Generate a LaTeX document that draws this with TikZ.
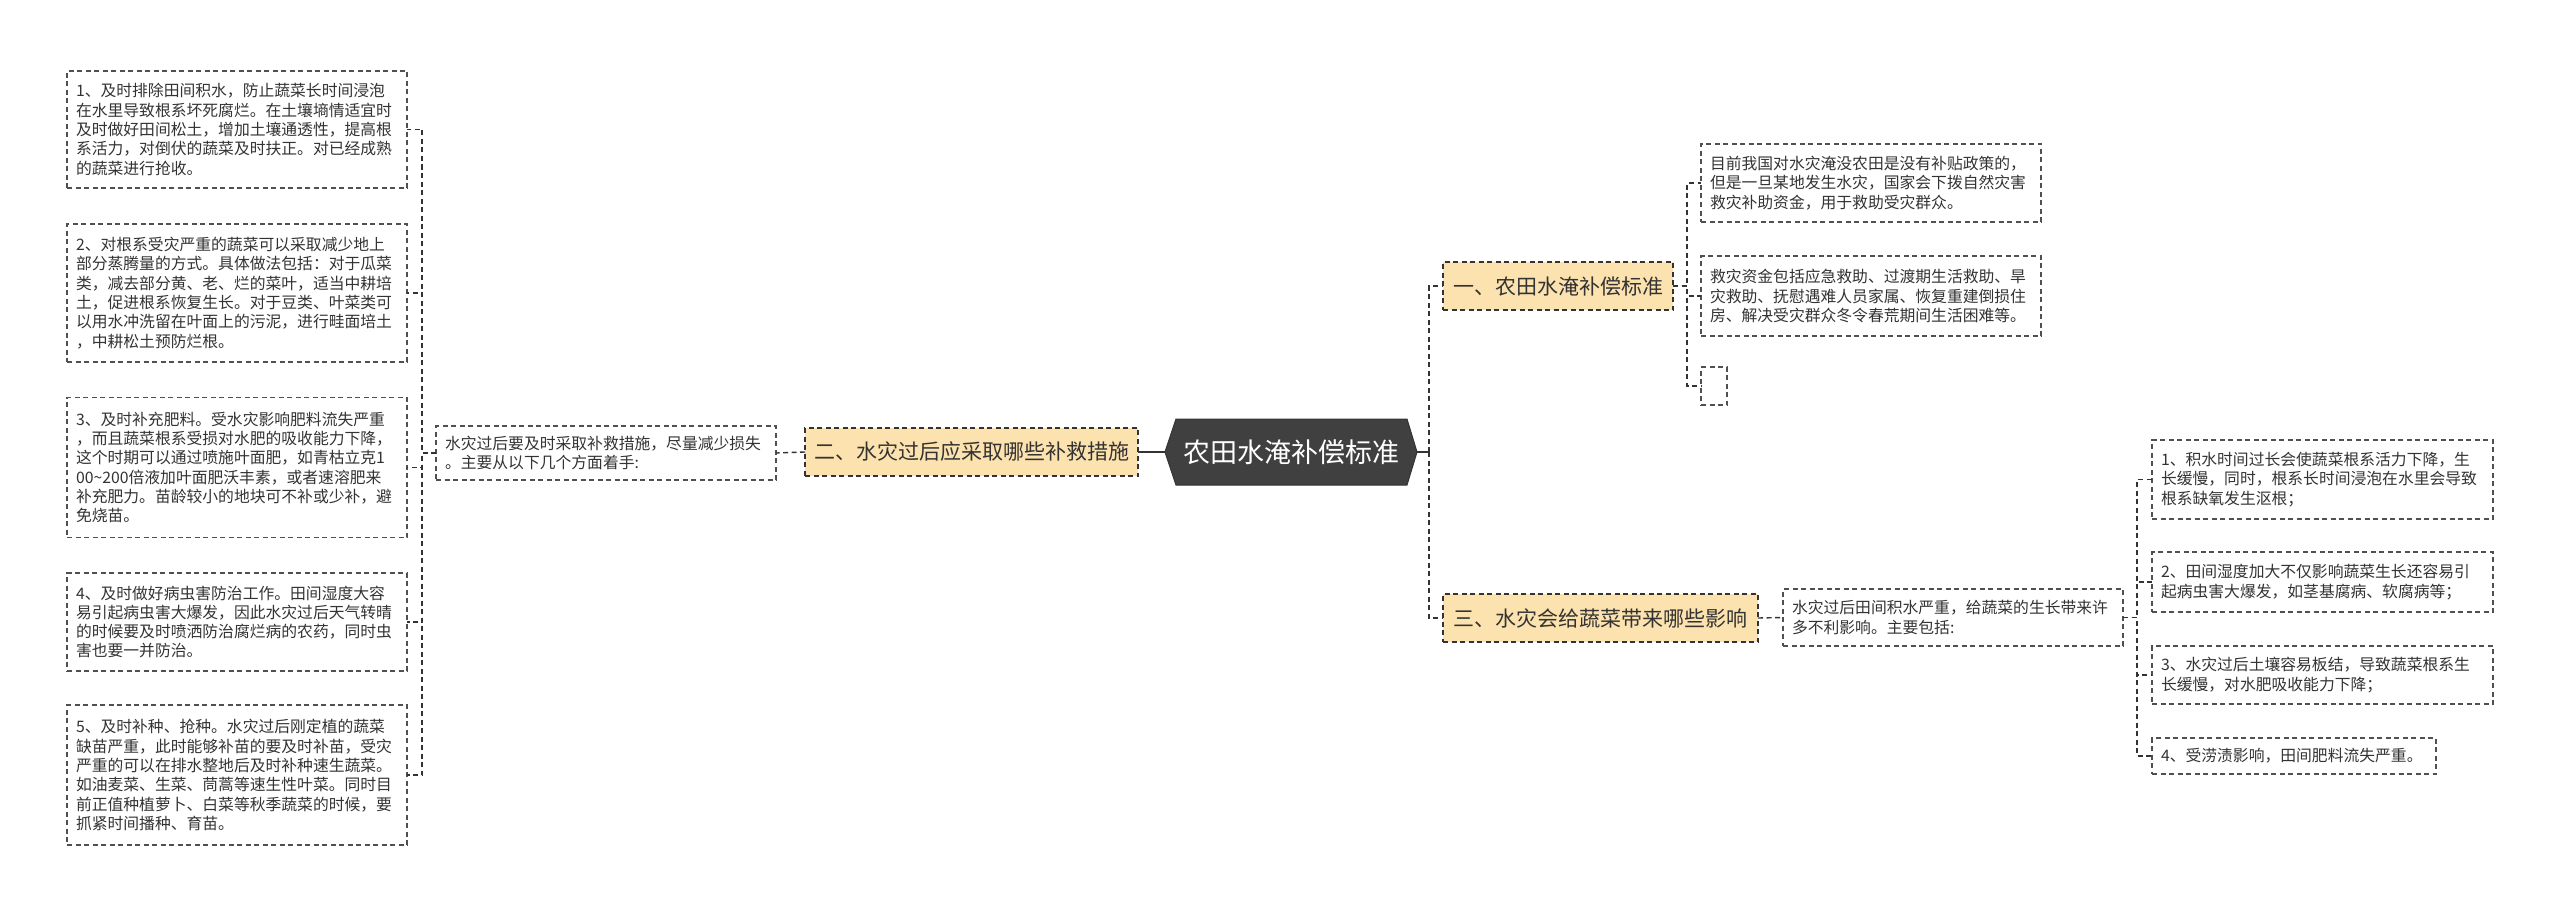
\documentclass[tikz,border=0pt]{standalone}
\usepackage{fontspec}
\setmainfont{Noto Sans CJK SC}
\usetikzlibrary{backgrounds,calc}
\definecolor{lineC}{HTML}{333333}
\definecolor{boxB}{HTML}{505050}
\definecolor{txtC}{HTML}{333333}
\definecolor{orangeF}{HTML}{FCE2AE}
\definecolor{centerF}{HTML}{404040}
\tikzset{
  conn/.style={draw=lineC, line width=1.4pt, dash pattern=on 5pt off 3.5pt},
  solidconn/.style={draw=lineC, line width=1.8pt},
  leaf/.style={draw=boxB, line width=1.3pt, dash pattern=on 5pt off 3.5pt, fill=white,
    inner xsep=9pt, inner ysep=0pt, outer sep=0pt, align=left, text width=322pt,
    font=\fontsize{15.8}{19.3}\selectfont, text=txtC, anchor=center},
  topic/.style={draw=lineC, line width=1.3pt, dash pattern=on 5pt off 3.5pt, fill=orangeF,
    inner sep=0pt, outer sep=0pt, font=\fontsize{21}{25}\selectfont, text=txtC, anchor=center},
  centertext/.style={inner sep=0pt, outer sep=0pt, minimum width=252pt, minimum height=66pt,
    font=\fontsize{27}{32}\selectfont, text=white, anchor=center}
}
\begin{document}
\begin{tikzpicture}[x=1pt,y=-1pt]
\begin{scope}[on background layer]
\fill[white] (0,0) rectangle (2560,915);
\end{scope}
\useasboundingbox (0,0) rectangle (2560,915);

% center
\node[centertext] (c) at (1291,452) {农田水淹补偿标准};
\begin{scope}[on background layer]
\path[fill=centerF, draw=black!80, line width=1pt] (c.west) -- ([xshift=11pt]c.north west) -- ([xshift=-10pt]c.north east) -- (c.east) -- ([xshift=-10pt]c.south east) -- ([xshift=11pt]c.south west) -- cycle;
\end{scope}

% level-1 topics
\node[topic, minimum width=333pt, minimum height=48pt] (n2) at (971.5,452) {二、水灾过后应采取哪些补救措施};
\node[topic, minimum width=230pt, minimum height=48pt] (n1) at (1558,286) {一、农田水淹补偿标准};
\node[topic, minimum width=315pt, minimum height=48pt] (n3) at (1600.5,618) {三、水灾会给蔬菜带来哪些影响};

% left side
\node[leaf, minimum height=54pt] (m2) at (606,453) {水灾过后要及时采取补救措施，尽量减少损失\\。主要从以下几个方面着手:};
\node[leaf, minimum height=117pt] (b1) at (237,129.5) {1、及时排除田间积水，防止蔬菜长时间浸泡\\在水里导致根系坏死腐烂。在土壤墒情适宜时\\及时做好田间松土，增加土壤通透性，提高根\\系活力，对倒伏的蔬菜及时扶正。对已经成熟\\的蔬菜进行抢收。};
\node[leaf, minimum height=138pt] (b2) at (237,293) {2、对根系受灾严重的蔬菜可以采取减少地上\\部分蒸腾量的方式。具体做法包括：对于瓜菜\\类，减去部分黄、老、烂的菜叶，适当中耕培\\土，促进根系恢复生长。对于豆类、叶菜类可\\以用水冲洗留在叶面上的污泥，进行畦面培土\\，中耕松土预防烂根。};
\node[leaf, minimum height=140pt] (b3) at (237,467.5) {3、及时补充肥料。受水灾影响肥料流失严重\\，而且蔬菜根系受损对水肥的吸收能力下降，\\这个时期可以通过喷施叶面肥，如青枯立克1\\00\textasciitilde200倍液加叶面肥沃丰素，或者速溶肥来\\补充肥力。苗龄较小的地块可不补或少补，避\\免烧苗。};
\node[leaf, minimum height=98pt] (b4) at (237,622) {4、及时做好病虫害防治工作。田间湿度大容\\易引起病虫害大爆发，因此水灾过后天气转晴\\的时候要及时喷洒防治腐烂病的农药，同时虫\\害也要一并防治。};
\node[leaf, minimum height=140pt] (b5) at (237,775) {5、及时补种、抢种。水灾过后刚定植的蔬菜\\缺苗严重，此时能够补苗的要及时补苗，受灾\\严重的可以在排水整地后及时补种速生蔬菜。\\如油麦菜、生菜、茼蒿等速生性叶菜。同时目\\前正值种植萝卜、白菜等秋季蔬菜的时候，要\\抓紧时间播种、育苗。};

% right upper
\node[leaf, minimum height=78pt] (ra) at (1871,183) {目前我国对水灾淹没农田是没有补贴政策的，\\但是一旦某地发生水灾，国家会下拨自然灾害\\救灾补助资金，用于救助受灾群众。};
\node[leaf, minimum height=80pt] (rb) at (1871,296) {救灾资金包括应急救助、过渡期生活救助、旱\\灾救助、抚慰遇难人员家属、恢复重建倒损住\\房、解决受灾群众冬令春荒期间生活困难等。};
\node[leaf, text width=0pt, inner xsep=0pt, minimum width=26pt, minimum height=38pt] (rc) at (1714,386) {};

% right lower
\node[leaf, minimum height=57pt] (m3) at (1953,617.5) {水灾过后田间积水严重，给蔬菜的生长带来许\\多不利影响。主要包括:};
\node[leaf, text width=323pt, minimum height=79pt] (r1) at (2322.5,479.5) {1、积水时间过长会使蔬菜根系活力下降，生\\长缓慢，同时，根系长时间浸泡在水里会导致\\根系缺氧发生沤根；};
\node[leaf, text width=323pt, minimum height=60pt] (r2) at (2322.5,582) {2、田间湿度加大不仅影响蔬菜生长还容易引\\起病虫害大爆发，如茎基腐病、软腐病等；};
\node[leaf, text width=323pt, minimum height=58pt] (r3) at (2322.5,675) {3、水灾过后土壤容易板结，导致蔬菜根系生\\长缓慢，对水肥吸收能力下降；};
\node[leaf, text width=266pt, minimum height=36pt] (r4) at (2294,756) {4、受涝渍影响，田间肥料流失严重。};

% connectors
\draw[solidconn] (n2.east) -- (c.west);
\draw[solidconn] (c.east) -- ++(12,0) coordinate (tR);
\draw[conn] (tR) |- (n1.west);
\draw[conn] (tR) |- (n3.west);
\draw[conn] (n2.west) -- (m2.east);
\foreach \b in {b1,b2,b3,b4,b5} {\draw[conn] (m2.west) -- ++(-14,0) |- (\b.east);}
\foreach \b in {ra,rb,rc} {\draw[conn] (n1.east) -- ++(14,0) |- (\b.west);}
\draw[conn] (n3.east) -- (m3.west);
\foreach \b in {r1,r2,r3,r4} {\draw[conn] (m3.east) -- ++(14,0) |- (\b.west);}
\end{tikzpicture}
\end{document}
